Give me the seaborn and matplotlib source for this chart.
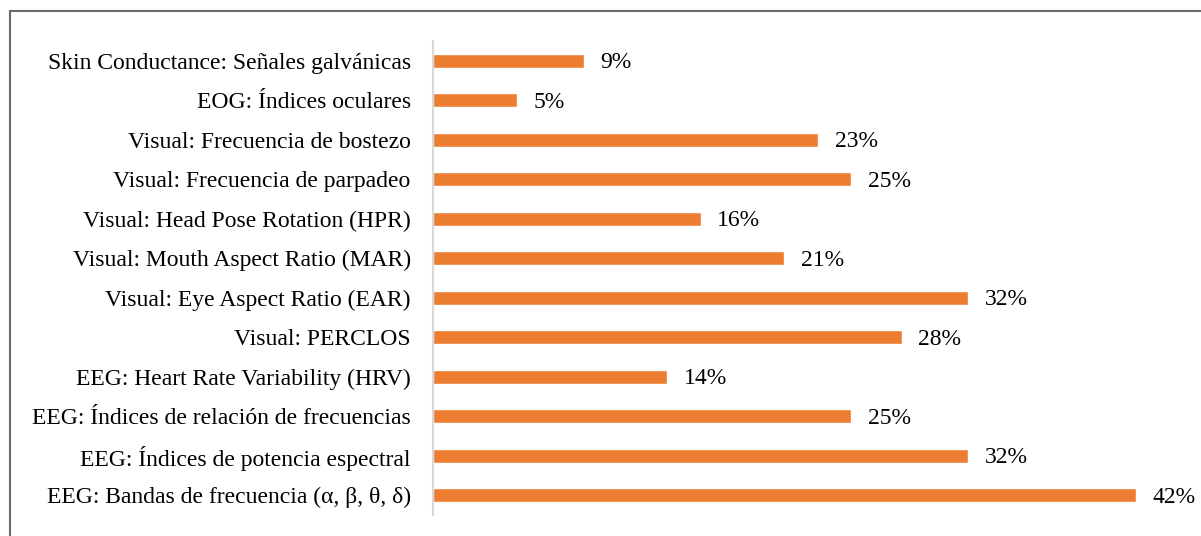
import matplotlib
matplotlib.use("Agg")
import matplotlib.pyplot as plt
from matplotlib.patches import Rectangle
import seaborn as sns
import pandas as pd

categories = [
    "Skin Conductance: Señales galvánicas",
    "EOG: Índices oculares",
    "Visual: Frecuencia de bostezo",
    "Visual: Frecuencia de parpadeo",
    "Visual: Head Pose Rotation (HPR)",
    "Visual: Mouth Aspect Ratio (MAR)",
    "Visual: Eye Aspect Ratio (EAR)",
    "Visual: PERCLOS",
    "EEG: Heart Rate Variability (HRV)",
    "EEG: Índices de relación de frecuencias",
    "EEG: Índices de potencia espectral",
    "EEG: Bandas de frecuencia (α, β, θ, δ)",
]
percentages = [9, 5, 23, 25, 16, 21, 32, 28, 14, 25, 32, 42]

df = pd.DataFrame({"category": categories, "pct": percentages})

sns.set_theme(style="white")
plt.rcParams["font.family"] = ["Liberation Serif", "DejaVu Serif"]

fig = plt.figure(figsize=(12.01, 5.36), dpi=100)
ax = fig.add_axes([0.3605, 0.039, 0.627, 0.8845])

sns.barplot(data=df, y="category", x="pct", orient="h", color="#ED7D31",
            saturation=1, width=0.35, ax=ax)

ax.set_xlim(0, 45)
ax.set_ylim(len(categories) - 0.5, -0.5)
ax.set_xlabel("")
ax.set_ylabel("")
ax.set_xticks([])
ax.tick_params(axis="y", length=0, pad=16, labelsize=17, labelcolor="black")
for s in ["top", "right", "bottom"]:
    ax.spines[s].set_visible(False)
ax.spines["left"].set_color("#d9d9d9")
ax.spines["left"].set_linewidth(1.5)

for i, v in enumerate(percentages):
    ax.annotate(f"{v}%", xy=(v, i), xytext=(12, -1.5), textcoords="offset points",
                va="center", ha="left", fontsize=17, color="black")

# outer frame
fig.patches.append(Rectangle((10 / 1201, -0.1), 1.2, 1 - 11 / 536 + 0.1,
                             transform=fig.transFigure, fill=False,
                             edgecolor="#6b6b6b", linewidth=1.5))

fig.savefig("out.png", dpi=100)
